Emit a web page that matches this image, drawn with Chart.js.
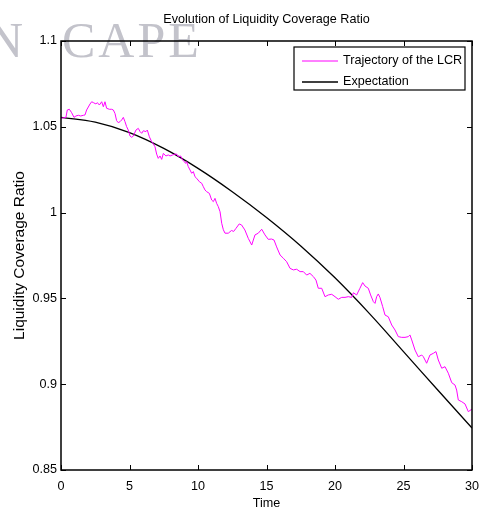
<!DOCTYPE html>
<html>
<head>
<meta charset="utf-8">
<script src="https://cdn.jsdelivr.net/npm/chart.js@4.4.1/dist/chart.umd.min.js"></script>
<style>
  html, body { margin: 0; padding: 0; background: #fff; }
  #wrap { width: 480px; height: 513px; }
</style>
</head>
<body>
<div id="wrap"><canvas id="lcr"></canvas></div>
<script>
// ── data ──
const simTime = [0, 0.36, 0.46, 0.61, 0.78, 0.95, 1.09, 1.27, 1.44, 1.63, 1.75, 1.87, 2.12, 2.24, 2.36, 2.55, 2.65, 2.80, 2.97, 3.09,
  3.21, 3.33, 3.53, 3.70, 3.82, 3.94, 4.06, 4.18, 4.31, 4.43, 4.55, 4.67, 4.79, 4.91, 5.04, 5.16, 5.28, 5.47, 5.64, 5.77,
  5.89, 6.01, 6.20, 6.30, 6.45, 6.62, 6.74, 6.86, 6.98, 7.10, 7.23, 7.35, 7.47, 7.66, 7.83, 7.96, 8.15, 8.32, 8.44, 8.56,
  8.73, 8.88, 8.98, 9.12, 9.17, 9.29, 9.42, 9.54, 9.66, 9.78, 9.90, 10.10, 10.27, 10.39, 10.51, 10.63, 10.83, 11.00, 11.12, 11.24,
  11.36, 11.48, 11.61, 11.73, 11.85, 11.97, 12.21, 12.45, 12.60, 12.77, 13.01, 13.18, 13.42, 13.67, 13.92, 14.16, 14.40, 14.65, 14.89, 15.13,
  15.37, 15.55, 15.74, 15.99, 16.23, 16.47, 16.72, 16.96, 17.20, 17.45, 17.69, 17.93, 18.17, 18.42, 18.61, 18.78, 19.03, 19.27, 19.51, 19.76,
  20.00, 20.24, 20.49, 20.73, 20.97, 21.22, 21.34, 21.58, 21.82, 22.02, 22.19, 22.43, 22.60, 22.80, 22.92, 23.04, 23.16, 23.28, 23.48, 23.65,
  23.89, 24.14, 24.38, 24.62, 24.87, 25.11, 25.35, 25.47, 25.60, 25.84, 26.08, 26.33, 26.45, 26.69, 26.93, 27.18, 27.37, 27.54, 27.79, 28.03,
  28.27, 28.52, 28.76, 28.88, 29.00, 29.25, 29.49, 29.73, 29.98, 30];
const simLcr = [1.0550, 1.0555, 1.0598, 1.0602, 1.0582, 1.0555, 1.0563, 1.0567, 1.0563, 1.0567, 1.0569, 1.0598, 1.0633, 1.0646, 1.0641, 1.0633, 1.0641, 1.0627, 1.0646, 1.0617,
  1.0646, 1.0608, 1.0602, 1.0602, 1.0598, 1.0578, 1.0536, 1.0524, 1.0530, 1.0540, 1.0555, 1.0530, 1.0501, 1.0481, 1.0446, 1.0439, 1.0446, 1.0481, 1.0491, 1.0472,
  1.0462, 1.0477, 1.0472, 1.0481, 1.0442, 1.0413, 1.0400, 1.0384, 1.0341, 1.0316, 1.0330, 1.0310, 1.0345, 1.0330, 1.0336, 1.0330, 1.0336, 1.0341, 1.0341, 1.0326,
  1.0330, 1.0307, 1.0297, 1.0287, 1.0297, 1.0268, 1.0248, 1.0229, 1.0239, 1.0209, 1.0200, 1.0180, 1.0171, 1.0151, 1.0132, 1.0122, 1.0112, 1.0073, 1.0064, 1.0083,
  1.0054, 1.0035, 1.0005, 0.9938, 0.9900, 0.9880, 0.9880, 0.9896, 0.9890, 0.9908, 0.9934, 0.9928, 0.9899, 0.9850, 0.9811, 0.9870, 0.9880, 0.9903, 0.9870, 0.9844,
  0.9846, 0.9840, 0.9800, 0.9753, 0.9734, 0.9714, 0.9675, 0.9666, 0.9670, 0.9656, 0.9656, 0.9636, 0.9646, 0.9627, 0.9607, 0.9559, 0.9559, 0.9510, 0.9520, 0.9524,
  0.9510, 0.9495, 0.9506, 0.9506, 0.9510, 0.9506, 0.9533, 0.9520, 0.9559, 0.9592, 0.9572, 0.9559, 0.9520, 0.9481, 0.9471, 0.9510, 0.9526, 0.9506, 0.9452, 0.9403,
  0.9393, 0.9345, 0.9316, 0.9277, 0.9273, 0.9273, 0.9277, 0.9287, 0.9258, 0.9199, 0.9160, 0.9170, 0.9160, 0.9122, 0.9170, 0.9180, 0.9190, 0.9141, 0.9093, 0.9102,
  0.9064, 0.9009, 0.8995, 0.8966, 0.8908, 0.8898, 0.8885, 0.8840, 0.8854, 0.8850];

const expTime = [0, 2.5, 5, 7.5, 10, 12.5, 15, 17.5, 20, 22.5, 25, 27.5, 30];
const expLcr  = [1.0555, 1.0527, 1.0466, 1.0374, 1.0258, 1.0122, 0.9972, 0.9806, 0.9620, 0.9413, 0.9190, 0.8966, 0.8745];

const xTicks = [0, 5, 10, 15, 20, 25, 30];
const yTicks = [0.85, 0.9, 0.95, 1, 1.05, 1.1];

const seriesNames = ['Trajectory of the LCR', 'Expectation'];
const titleText = 'Evolution of Liquidity Coverage Ratio';

const FONT = 'Arial, "Liberation Sans", sans-serif';

// ── box, inward ticks, legend, title, watermark ──
const framePlugin = {
  id: 'frame',
  beforeDatasetsDraw(chart) {
    const ctx = chart.ctx;
    ctx.save();
    ctx.fillStyle = '#c3c3cb';
    ctx.font = '50px "Liberation Serif", "DejaVu Serif", serif';
    ctx.textBaseline = 'alphabetic';
    ctx.fillText('N', -13, 57);
    ctx.letterSpacing = '3px';
    ctx.fillText('CAPE', 62, 57);
    ctx.restore();
  },
  afterDatasetsDraw(chart) {
    const { ctx, chartArea: a, scales } = chart;
    ctx.save();
    ctx.strokeStyle = '#000';
    ctx.lineWidth = 1.5;
    ctx.strokeRect(a.left, a.top, a.right - a.left, a.bottom - a.top);

    // inward ticks on all four sides
    const tl = 5;
    ctx.lineWidth = 1;
    ctx.beginPath();
    xTicks.forEach(v => {
      const px = Math.round(scales.x.getPixelForValue(v)) + 0.5;
      ctx.moveTo(px, a.bottom); ctx.lineTo(px, a.bottom - tl);
      ctx.moveTo(px, a.top);    ctx.lineTo(px, a.top + tl);
    });
    yTicks.forEach(v => {
      const py = Math.round(scales.y.getPixelForValue(v)) + 0.5;
      ctx.moveTo(a.left, py);  ctx.lineTo(a.left + tl, py);
      ctx.moveTo(a.right, py); ctx.lineTo(a.right - tl, py);
    });
    ctx.stroke();

    // title
    ctx.fillStyle = '#000';
    ctx.font = '12.6px ' + FONT;
    ctx.textAlign = 'center';
    ctx.textBaseline = 'middle';
    ctx.fillText(titleText, (a.left + a.right) / 2, 20);

    // legend
    const lx = 294, ly = 47, lw = 171, lh = 43;
    ctx.fillStyle = '#fff';
    ctx.fillRect(lx, ly, lw, lh);
    ctx.lineWidth = 1.2;
    ctx.strokeStyle = '#000';
    ctx.strokeRect(lx, ly, lw, lh);
    const rows = [61, 82];
    chart.data.datasets.forEach((ds, i) => {
      ctx.strokeStyle = ds.borderColor;
      ctx.lineWidth = ds.borderWidth;
      ctx.beginPath();
      ctx.moveTo(302, rows[i]); ctx.lineTo(338, rows[i]);
      ctx.stroke();
      ctx.fillStyle = '#000';
      ctx.textAlign = 'left';
      ctx.fillText(ds.label, 343, rows[i]);
    });
    ctx.restore();
  }
};

const toPoints = (xs, ys) => xs.map((x, i) => ({ x, y: ys[i] }));

new Chart(document.getElementById('lcr'), {
  type: 'line',
  data: {
    datasets: [
      {
        label: seriesNames[0],
        data: toPoints(simTime, simLcr),
        borderColor: '#ff00ff',
        borderWidth: 1,
        pointRadius: 0,
        tension: 0,
        fill: false
      },
      {
        label: seriesNames[1],
        data: toPoints(expTime, expLcr),
        borderColor: '#000000',
        borderWidth: 1.3,
        pointRadius: 0,
        tension: 0.4,
        fill: false
      }
    ]
  },
  options: {
    responsive: true,
    maintainAspectRatio: false,
    animation: false,
    events: [],
    layout: { padding: { top: 41, right: 8, left: 0, bottom: 0 } },
    plugins: {
      legend: { display: false },
      title: { display: false },
      tooltip: { enabled: false }
    },
    scales: {
      x: {
        type: 'linear',
        min: 0,
        max: 30,
        afterBuildTicks: s => { s.ticks = xTicks.map(v => ({ value: v })); },
        afterFit: s => { s.height = 43; s.paddingRight = 0; s.paddingLeft = 0; },
        grid: { display: false, drawTicks: false },
        border: { display: false },
        ticks: { color: '#000', font: { family: FONT, size: 12.6 }, padding: 9, maxRotation: 0, autoSkip: false },
        title: { display: true, text: 'Time', color: '#000', font: { family: FONT, size: 12.6 }, padding: { top: 0, bottom: 1.5 } }
      },
      y: {
        min: 0.85,
        max: 1.1,
        afterBuildTicks: s => { s.ticks = yTicks.map(v => ({ value: v })); },
        afterFit: s => { s.width = 61; },
        grid: { display: false, drawTicks: false },
        border: { display: false },
        ticks: {
          color: '#000', font: { family: FONT, size: 12.6 }, padding: 4, autoSkip: false,
          callback: v => String(+Number(v).toFixed(2))
        },
        title: { display: true, text: 'Liquidity Coverage Ratio', color: '#000', font: { family: FONT, size: 15.5 }, padding: { top: 10, bottom: 0 } }
      }
    }
  },
  plugins: [framePlugin]
});
</script>
</body>
</html>
